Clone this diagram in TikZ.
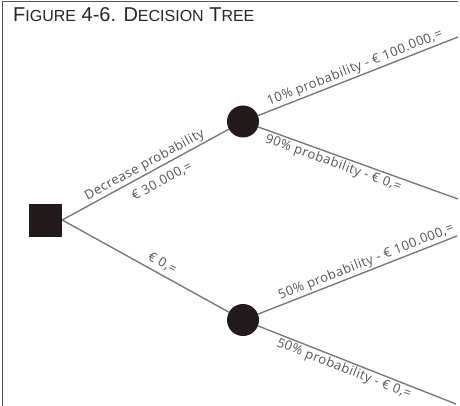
\documentclass[tikz,border=0pt]{standalone}
\usepackage{fontspec}
\setmainfont{Liberation Sans}
\newfontfamily\labelfont[LetterSpace=4]{Open Sans}
\definecolor{framegray}{HTML}{5A5252}
\definecolor{linegray}{HTML}{7A7A7A}
\definecolor{textgray}{HTML}{555555}
\definecolor{nodeblack}{HTML}{231A1B}
\definecolor{titleblack}{HTML}{2A2526}
\tikzset{
  decisionbox/.style={fill=nodeblack, draw=none, minimum size=33pt, inner sep=0pt},
  chancenode/.style={circle, fill=nodeblack, draw=none, minimum size=32pt, inner sep=0pt},
  branch/.style={draw=linegray, line width=1.4pt},
  lab/.style={font=\labelfont\fontsize{13}{13}\selectfont, text=textgray, sloped, inner sep=1.5pt},
  frameline/.style={draw=framegray, line width=1.4pt}
}
\newcommand{\smallcapsize}{\fontsize{16}{16}\selectfont}
\begin{document}
\begin{tikzpicture}[x=1pt, y=-1pt]
  \useasboundingbox (0,0) rectangle (460,406);
  % frame: top and left edges
  \draw[frameline] (458,1.5) -- (2.5,1.5) -- (2.5,406);
  % title
  \node[anchor=base west, inner sep=0pt, text=titleblack] (title) at (13,21.5)
    {\fontsize{20}{20}\selectfont F{\smallcapsize IGURE} 4-6. D{\smallcapsize ECISION} T{\smallcapsize REE}};
  % nodes
  \node[decisionbox] (S) at (45.5,220) {};
  \node[chancenode] (U) at (243,121.5) {};
  \node[chancenode] (L) at (243,320) {};
  \coordinate (E1) at (458,37);
  \coordinate (E2) at (458,199);
  \coordinate (E3) at (457,236);
  \coordinate (E4) at (456,404);
  % first-level branches
  \draw[branch] (S.east) -- (U)
    node[lab, above, pos=0.52] {Decrease probability}
    node[lab, below=6pt, pos=0.56] {€ 30.000,=};
  \draw[branch] (S.east) -- (L)
    node[lab, above=3pt, pos=0.57] {€ 0,=};
  % outcome branches
  \draw[branch] (U) -- (E1)
    node[lab, above, pos=0.5] {10\% probability - € 100.000,=};
  \draw[branch] (U) -- (E2)
    node[lab, below, pos=0.39] {90\% probability - € 0,=};
  \draw[branch] (L) -- (E3)
    node[lab, above, pos=0.56] {50\% probability - € 100.000,=};
  \draw[branch] (L) -- (E4)
    node[lab, below, pos=0.45] {50\% probability - € 0,=};
\end{tikzpicture}
\end{document}
